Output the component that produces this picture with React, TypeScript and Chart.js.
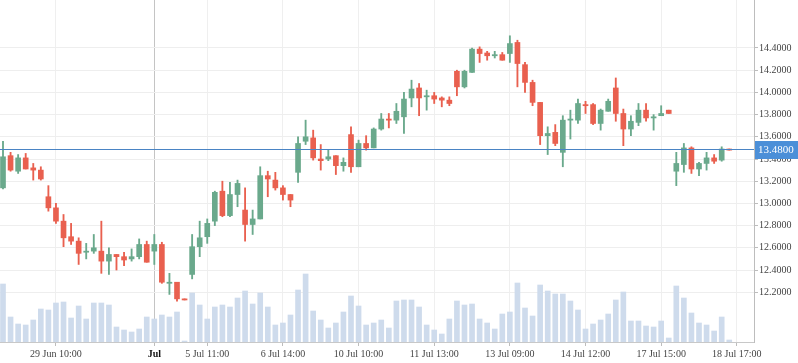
import React, { useEffect, useRef } from "react";
import { Chart, registerables } from "chart.js";

Chart.register(...registerables);

const openP = [
  13.14, 13.43, 13.29, 13.41, 13.32, 13.30, 13.06, 12.96, 12.84, 12.70,
  12.66, 12.56, 12.57, 12.57, 12.48, 12.54, 12.52, 12.50, 12.52, 12.63,
  12.57, 12.63, 12.28, 12.29, 12.14, 12.36, 12.61, 12.70, 12.84, 13.11,
  12.89, 13.08, 12.94, 12.81, 12.86, 13.25, 13.21, 13.14, 13.08, 13.28,
  13.56, 13.59, 13.40, 13.40, 13.43, 13.34, 13.62, 13.33, 13.54, 13.50,
  13.67, 13.76, 13.75, 13.78, 13.95, 14.04, 13.96, 13.97, 13.95, 13.93,
  14.19, 14.05, 14.18, 14.39, 14.355, 14.33, 14.34, 14.35, 14.45, 14.25,
  14.09, 13.91, 13.61, 13.64, 13.46, 13.75, 13.75, 13.89, 13.89, 13.72,
  13.83, 14.04, 13.81, 13.67, 13.73, 13.84, 13.77, 13.79, 13.84, 13.29,
  13.35, 13.50, 13.31, 13.36, 13.41, 13.39, 13.49,
];

const highP = [
  13.56, 13.46, 13.44, 13.45, 13.36, 13.33, 13.16, 13.00, 12.90, 12.82,
  12.69, 12.64, 12.72, 12.84, 12.60, 12.54, 12.56, 12.59, 12.68, 12.66,
  12.72, 12.65, 12.37, 12.29, 12.14, 12.72, 12.84, 12.86, 13.11, 13.20,
  13.19, 13.21, 13.14, 12.94, 13.33, 13.29, 13.28, 13.16, 13.08, 13.60,
  13.75, 13.66, 13.53, 13.48, 13.43, 13.41, 13.69, 13.57, 13.61, 13.68,
  13.81, 13.81, 13.90, 14.00, 14.11, 14.08, 14.02, 14.00, 13.96, 13.96,
  14.20, 14.20, 14.40, 14.41, 14.37, 14.37, 14.36, 14.51, 14.47, 14.27,
  14.11, 13.91, 13.69, 13.71, 13.79, 13.84, 13.94, 13.92, 13.90, 13.85,
  13.94, 14.13, 13.85, 13.79, 13.90, 13.90, 13.80, 13.88, 13.84, 13.46,
  13.54, 13.51, 13.37, 13.46, 13.44, 13.51, 13.49,
];

const lowP = [
  13.13, 13.29, 13.27, 13.31, 13.21, 13.21, 12.93, 12.82, 12.61, 12.63,
  12.45, 12.50, 12.55, 12.37, 12.36, 12.40, 12.44, 12.48, 12.50, 12.47,
  12.45, 12.28, 12.18, 12.12, 12.13, 12.32, 12.52, 12.64, 12.80, 12.88,
  12.88, 12.97, 12.66, 12.72, 12.86, 13.06, 13.12, 13.03, 12.97, 13.19,
  13.53, 13.39, 13.30, 13.385, 13.26, 13.29, 13.28, 13.33, 13.48, 13.50,
  13.66, 13.68, 13.72, 13.63, 13.87, 13.79, 13.84, 13.90, 13.87, 13.88,
  13.97, 14.04, 14.18, 14.27, 14.29, 14.31, 14.29, 14.27, 14.05, 14.00,
  13.88, 13.53, 13.44, 13.52, 13.33, 13.58, 13.72, 13.81, 13.71, 13.66,
  13.83, 13.74, 13.52, 13.61, 13.70, 13.74, 13.66, 13.79, 13.81, 13.16,
  13.28, 13.27, 13.25, 13.30, 13.36, 13.38, 13.48,
];

const closeP = [
  13.42, 13.30, 13.41, 13.31, 13.30, 13.22, 12.96, 12.84, 12.69, 12.66,
  12.55, 12.57, 12.60, 12.48, 12.54, 12.52, 12.49, 12.52, 12.63, 12.47,
  12.63, 12.29, 12.29, 12.14, 12.13, 12.61, 12.69, 12.82, 13.10, 12.89,
  13.08, 13.18, 12.81, 12.86, 13.25, 13.22, 13.14, 13.08, 13.03, 13.54,
  13.60, 13.41, 13.385, 13.42, 13.34, 13.37, 13.33, 13.54, 13.50, 13.67,
  13.76, 13.75, 13.83, 13.94, 14.03, 13.95, 13.97, 13.94, 13.93, 13.90,
  14.05, 14.19, 14.39, 14.35, 14.33, 14.34, 14.29, 14.44, 14.26, 14.09,
  13.91, 13.61, 13.63, 13.54, 13.75, 13.76, 13.90, 13.88, 13.72, 13.84,
  13.92, 13.81, 13.67, 13.74, 13.84, 13.77, 13.78, 13.81, 13.81, 13.36,
  13.50, 13.31, 13.36, 13.41, 13.38, 13.49, 13.48,
];

const volume = [
  58, 25, 18, 17, 22, 33, 32, 39, 40, 24,
  36, 23, 39, 39, 37, 15, 12, 10, 13, 25,
  23, 27, 25, 30, 1, 49, 37, 23, 35, 37,
  35, 44, 51, 38, 49, 35, 17, 19, 27, 52,
  68, 31, 22, 14, 19, 30, 46, 36, 17, 19,
  22, 14, 41, 42, 42, 35, 17, 12, 8, 23,
  41, 37, 38, 23, 19, 13, 28, 30, 59, 34,
  26, 57, 51, 48, 48, 41, 32, 13, 18, 22,
  28, 42, 50, 21, 21, 16, 15, 21, 4, 56,
  44, 29, 19, 17, 11, 25, 2,
];

const tickIdx = [7, 20, 27, 37, 47, 57, 67, 77, 87, 97];
const tickLabels = [
  "29 Jun 10:00", "Jul", "5 Jul 11:00", "6 Jul 14:00", "10 Jul 10:00",
  "11 Jul 13:00", "13 Jul 09:00", "14 Jul 12:00", "17 Jul 15:00", "18 Jul 17:00",
];
const monthTick = 20;
const priceTicks = [12.2, 12.4, 12.6, 12.8, 13.0, 13.2, 13.4, 13.6, 13.8, 14.0, 14.2, 14.4];
const lastPrice = 13.48;

const UP = "#6aa98c";
const DOWN = "#e9604f";
const VOL = "#cedbec";
const FONT = "'Liberation Serif', 'Times New Roman', serif";

export default function App() {
  const ref = useRef<HTMLCanvasElement>(null);

  useEffect(() => {
    if (!ref.current) return;
    const idx = openP.map((_, i) => i);
    const colors = idx.map((i) => (closeP[i] >= openP[i] ? UP : DOWN));

    const priceLine = {
      id: "priceLine",
      afterDraw(chart: any) {
        const { ctx, chartArea, scales } = chart;
        const y = Math.floor(scales.y.getPixelForValue(lastPrice)) - 0.5;
        ctx.save();
        ctx.strokeStyle = "#4a84c4";
        ctx.lineWidth = 1;
        ctx.beginPath();
        ctx.moveTo(chartArea.left, y);
        ctx.lineTo(chartArea.right, y);
        ctx.stroke();
        ctx.fillStyle = "#4b8fd8";
        ctx.fillRect(chartArea.right + 1, y - 8.5, chart.width - chartArea.right - 1, 18);
        ctx.fillStyle = "#ffffff";
        ctx.font = "11px " + FONT;
        ctx.textBaseline = "middle";
        ctx.textAlign = "left";
        ctx.fillText(lastPrice.toFixed(4), chartArea.right + 4, y + 1);
        ctx.restore();
      },
    };

    const chart = new Chart(ref.current, {
      type: "bar",
      data: {
        datasets: [
          {
            label: "body",
            data: idx.map((i) => ({ x: i, y: [openP[i], closeP[i]] })),
            backgroundColor: colors,
            barThickness: 5,
            minBarLength: 1,
            yAxisID: "y",
            order: 0,
          } as any,
          {
            label: "wick",
            data: idx.map((i) => ({ x: i, y: [lowP[i], highP[i]] })),
            backgroundColor: colors,
            barThickness: 1.2,
            yAxisID: "y",
            order: 1,
          } as any,
          {
            label: "volume",
            data: idx.map((i) => ({ x: i, y: volume[i] })),
            backgroundColor: VOL,
            barThickness: 5,
            yAxisID: "yv",
            order: 2,
          } as any,
        ],
      },
      options: {
        responsive: false,
        animation: false,
        layout: { padding: 0 },
        font: { family: FONT, size: 10 },
        plugins: { legend: { display: false }, tooltip: { enabled: false } },
        scales: {
          x: {
            type: "linear",
            stacked: true,
            offset: false,
            min: -0.3966,
            max: 99.27,
            afterBuildTicks: (axis: any) => {
              axis.ticks = tickIdx.map((v) => ({ value: v }));
            },
            afterFit: (axis: any) => {
              axis.height = 21;
              axis.paddingLeft = 0;
              axis.paddingRight = 0;
            },
            grid: {
              offset: false,
              color: (ctx: any) => (ctx.tick && ctx.tick.value === monthTick ? "#c4c4c4" : "#efefef"),
              tickColor: "#bdbdbd",
              tickLength: 4,
            },
            border: { color: "#c8c8c8" },
            ticks: {
              autoSkip: false,
              maxRotation: 0,
              padding: 2,
              color: (ctx: any) => (ctx.tick && ctx.tick.value === monthTick ? "#111" : "#444"),
              font: (ctx: any) => ({
                family: FONT,
                size: 10,
                weight: ctx.tick && ctx.tick.value === monthTick ? "bold" : "normal",
              }),
              callback: (v: any) => {
                const k = tickIdx.indexOf(Math.round(Number(v)));
                return k >= 0 ? tickLabels[k] : "";
              },
            },
          },
          y: {
            type: "linear",
            position: "right",
            min: 11.7514,
            max: 14.8324,
            afterBuildTicks: (axis: any) => {
              axis.ticks = priceTicks.map((v) => ({ value: v }));
            },
            afterFit: (axis: any) => {
              axis.width = 44;
              axis.paddingTop = 0;
              axis.paddingBottom = 0;
            },
            grid: { color: "#eeeeee", tickColor: "#bdbdbd", tickLength: 4 },
            border: { color: "#bdbdbd" },
            ticks: {
              padding: 1,
              color: "#444",
              font: { family: FONT, size: 10 },
              callback: (v: any) => Number(v).toFixed(4),
            },
          },
          yv: {
            type: "linear",
            display: false,
            min: 0,
            max: 342,
            grid: { display: false },
          },
        },
      } as any,
      plugins: [priceLine],
    });
    return () => chart.destroy();
  }, []);

  return (
    <div style={{ position: "absolute", left: 0, top: 0, width: 798, height: 363 }}>
      <canvas ref={ref} width={798} height={363} style={{ display: "block" }} />
    </div>
  );
}
